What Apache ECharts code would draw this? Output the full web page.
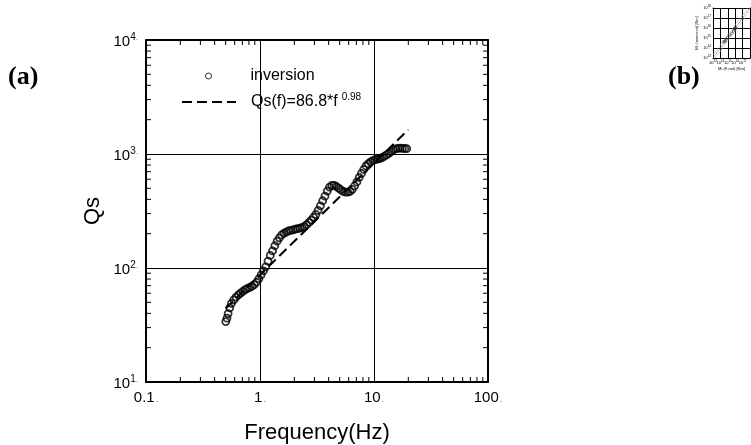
<!DOCTYPE html>
<html><head><meta charset="utf-8">
<script src="https://cdn.jsdelivr.net/npm/echarts@6/dist/echarts.min.js"></script>
<style>html,body{margin:0;padding:0;background:#fff}#c{width:751px;height:445px}</style>
</head><body><div id="c"></div>
<script>
// ---- data ----
const freq = [0.501,0.513,0.525,0.543,0.562,0.589,0.617,0.646,0.676,0.708,0.741,0.776,0.813,0.851,0.891,0.933,0.977,
  1.023,1.072,1.122,1.175,1.230,1.288,1.349,1.413,1.479,1.549,1.622,1.698,1.778,1.862,1.950,2.042,2.138,2.239,2.344,
  2.455,2.570,2.692,2.818,2.951,3.090,3.236,3.388,3.548,3.715,3.890,4.074,4.266,4.467,4.677,4.898,5.129,5.370,5.623,
  5.888,6.166,6.457,6.761,7.079,7.413,7.762,8.128,8.511,8.913,9.333,9.772,10.23,10.72,11.22,11.75,12.30,12.88,13.49,
  14.13,14.79,15.49,16.22,16.98,17.78,18.62,19.36];
const qsInv = [33.9,36.3,39.8,44.7,49.0,52.5,55.6,58.2,60.3,62.4,64.6,66.1,67.6,69.2,71.6,75.0,80.4,
  87.1,94.4,102.3,114.8,128.8,141.3,156.7,171.8,184.1,195.0,201.8,206.5,211.3,213.8,216.3,218.8,221.3,223.9,226.5,
  231.7,239.9,251.2,263.0,278.6,295.1,319.9,350.8,389.0,426.6,473.2,512.9,530.9,530.9,518.8,501.2,484.2,469.9,462.4,
  462.4,469.9,489.8,524.8,568.9,623.7,676.1,732.8,785.2,822.2,851.1,875.0,891.3,901.6,912.0,929.0,955.0,981.7,1012,
  1047,1084,1109,1122,1127,1122,1117,1114];
const fitFreq = [0.5, 20];
const fitQs = [44.2, 1633];
const xMinorTicks = [0.2,0.3,0.4,0.5,0.6,0.7,0.8,0.9,2,3,4,5,6,7,8,9,20,30,40,50,60,70,80,90];
const yMinorTicks = [20,30,40,50,60,70,80,90,200,300,400,500,600,700,800,900,2000,3000,4000,5000,6000,7000,8000,9000];
// inset (b)
const insetFnet = [2.8e14,3.5e14,4.5e14,6.3e14,1.0e15,1.6e15,3.5e15,5.6e15,7.1e15,8.9e15,1.1e16,1.26e16];
const insetInv  = [4.0e14,4.5e14,5.2e14,7.9e14,1.1e15,2.0e15,2.8e15,5.0e15,7.9e15,1.0e16,8.9e15,1.1e16];
const insetDiag = [[1e13,1e13],[1e18,1e18]];
const insetUp = [[1e13,2e13],[5e17,1e18]];
const insetDown = [[2e13,1e13],[1e18,5e17]];

const FF = 'Liberation Sans';
const black = '#000';
const X0 = 0.1, X1 = 100, Y0 = 10, Y1 = 10000;
function supLabel(v){ const e = Math.round(Math.log10(v)); return '{b|10}{s|' + e + '}{d|.}'; }
function xLabel(v){ const t = v < 1 ? String(Math.round(v*10)/10) : String(Math.round(v)); return '{b|' + t + '}{d|.}'; }

const TL = 5;
function xTickItem(params, api){
  const v = api.value(0);
  const b = api.coord([v, Y0]), t = api.coord([v, Y1]);
  return {type:'group', children:[
    {type:'line', shape:{x1:b[0], y1:b[1], x2:b[0], y2:b[1]-TL}, style:{stroke:black, lineWidth:1}},
    {type:'line', shape:{x1:t[0], y1:t[1], x2:t[0], y2:t[1]+TL}, style:{stroke:black, lineWidth:1}}
  ]};
}
function yTickItem(params, api){
  const v = api.value(1);
  const l = api.coord([X0, v]), r = api.coord([X1, v]);
  return {type:'group', children:[
    {type:'line', shape:{x1:l[0], y1:l[1], x2:l[0]+TL, y2:l[1]}, style:{stroke:black, lineWidth:1}},
    {type:'line', shape:{x1:r[0], y1:r[1], x2:r[0]-TL, y2:r[1]}, style:{stroke:black, lineWidth:1}}
  ]};
}

const chart = echarts.init(document.getElementById('c'), null, {renderer:'canvas'});
const mainX = {type:'log', gridIndex:0, min:X0, max:X1};
const mainY = {type:'log', gridIndex:0, min:Y0, max:Y1};
const inX = {type:'log', gridIndex:1, min:1e13, max:1e18};
const inY = {type:'log', gridIndex:1, min:1e13, max:1e18};
const inLab = {fontSize:4, color:black, margin:2, formatter: v => '10{s|' + Math.round(Math.log10(v)) + '}', rich:{s:{fontSize:3, padding:[0,0,3,0]}}};

chart.setOption({
  animation:false,
  backgroundColor:'#fff',
  textStyle:{fontFamily:FF},
  title:[
    {text:'(a)', left:8, top:64, padding:0, textStyle:{fontFamily:'Liberation Serif', fontWeight:'bold', fontSize:26, color:black}},
    {text:'(b)', left:668, top:64, padding:0, textStyle:{fontFamily:'Liberation Serif', fontWeight:'bold', fontSize:26, color:black}}
  ],
  grid:[
    {left:146, top:40, width:342, height:342, outerBoundsMode:'none', containLabel:false},
    {left:713, top:8, width:37, height:50, outerBoundsMode:'none', containLabel:false}
  ],
  legend:[
    {data:['inversion'], left:205, top:68, padding:0, selectedMode:false, itemWidth:6, itemHeight:6, icon:'circle',
     itemStyle:{color:'rgba(0,0,0,0)', borderColor:black, borderWidth:1},
     textStyle:{fontFamily:FF, fontSize:16, color:black, padding:[0,0,0,34]}},
    {data:['fit'], left:181, top:92, padding:0, selectedMode:false, itemWidth:54, itemHeight:14,
     lineStyle:{color:black, width:2, type:[10,5]},
     itemStyle:{opacity:0, color:'rgba(0,0,0,0)', borderWidth:0},
     formatter: () => '{m|Qs(f)=86.8*f}{s|0.98}',
     textStyle:{fontFamily:FF, color:black, padding:[0,0,0,10],
       rich:{m:{fontSize:16, fontFamily:FF, color:black}, s:{fontSize:10, fontFamily:FF, color:black, padding:[0,0,10,4]}}}}
  ],
  xAxis:[
    Object.assign({}, mainX, {position:'bottom', axisLine:{lineStyle:{color:black, width:2}}, axisTick:{show:false},
      splitLine:{show:true, lineStyle:{color:black, width:1}},
      axisLabel:{margin:8, color:black, formatter:xLabel, rich:{b:{fontSize:15, fontFamily:FF, color:black}, d:{fontSize:9, color:'#666', padding:[5,0,0,1]}}},
      name:'Frequency(Hz)', nameLocation:'middle', nameGap:40, nameTextStyle:{fontSize:22, color:black, fontFamily:FF}}),
    Object.assign({}, mainX, {position:'top', axisLine:{lineStyle:{color:black, width:2}}, axisTick:{show:false}, axisLabel:{show:false}, splitLine:{show:false}}),
    Object.assign({}, inX, {position:'bottom', axisLine:{lineStyle:{color:black, width:1}}, axisTick:{show:false},
      splitLine:{show:true, lineStyle:{color:black, width:1}}, axisLabel:inLab,
      name:'Mi (F-net) [Nm]', nameLocation:'middle', nameGap:9, nameTextStyle:{fontSize:4, color:black}}),
    Object.assign({}, inX, {position:'top', axisLine:{lineStyle:{color:black, width:1}}, axisTick:{show:false}, axisLabel:{show:false}, splitLine:{show:false}})
  ],
  yAxis:[
    Object.assign({}, mainY, {position:'left', axisLine:{lineStyle:{color:black, width:2}}, axisTick:{show:false},
      splitLine:{show:true, lineStyle:{color:black, width:1}},
      axisLabel:{margin:8, color:black, formatter:supLabel,
        rich:{b:{fontSize:15, fontFamily:FF, color:black, padding:[4,0,0,0]}, s:{fontSize:10, fontFamily:FF, color:black, padding:[0,0,5,0]}, d:{fontSize:8, color:'#666', padding:[0,0,5,0]}}},
      name:'Qs', nameLocation:'middle', nameGap:42, nameTextStyle:{fontSize:22, color:black, fontFamily:FF}}),
    Object.assign({}, mainY, {position:'right', axisLine:{lineStyle:{color:black, width:2}}, axisTick:{show:false}, axisLabel:{show:false}, splitLine:{show:false}}),
    Object.assign({}, inY, {position:'left', axisLine:{lineStyle:{color:black, width:1}}, axisTick:{show:false},
      splitLine:{show:true, lineStyle:{color:black, width:1}}, axisLabel:inLab,
      name:'Mi (inversion) [Nm]', nameLocation:'middle', nameGap:9, nameTextStyle:{fontSize:4, color:black}}),
    Object.assign({}, inY, {position:'right', axisLine:{lineStyle:{color:black, width:1}}, axisTick:{show:false}, axisLabel:{show:false}, splitLine:{show:false}})
  ],
  series:[
    {type:'custom', xAxisIndex:0, yAxisIndex:0, renderItem:xTickItem, clip:false, silent:true, z:5,
     data: xMinorTicks.map(v => [v, Y0])},
    {type:'custom', xAxisIndex:0, yAxisIndex:0, renderItem:yTickItem, clip:false, silent:true, z:5,
     data: yMinorTicks.map(v => [X0, v])},
    {name:'fit', type:'line', xAxisIndex:0, yAxisIndex:0, symbol:'none', z:3, color:black,
     data: fitFreq.map((f,i) => [f, fitQs[i]]),
     lineStyle:{color:black, width:2, type:[10,5]}},
    {name:'inversion', type:'scatter', xAxisIndex:0, yAxisIndex:0, symbol:'circle', symbolSize:7, z:4,
     data: freq.map((f,i) => [f, qsInv[i]]),
     itemStyle:{color:'rgba(0,0,0,0)', borderColor:black, borderWidth:1.8}},
    {type:'line', xAxisIndex:2, yAxisIndex:2, symbol:'none', data:insetDiag, lineStyle:{color:'#888', width:0.6}},
    {type:'line', xAxisIndex:2, yAxisIndex:2, symbol:'none', data:insetUp, lineStyle:{color:'#bbb', width:0.5}},
    {type:'line', xAxisIndex:2, yAxisIndex:2, symbol:'none', data:insetDown, lineStyle:{color:'#bbb', width:0.5}},
    {type:'scatter', xAxisIndex:2, yAxisIndex:2, symbol:'circle', symbolSize:2.5,
     data: insetFnet.map((f,i) => [f, insetInv[i]]),
     itemStyle:{color:'rgba(0,0,0,0)', borderColor:black, borderWidth:0.6}}
  ]
});
</script></body></html>
